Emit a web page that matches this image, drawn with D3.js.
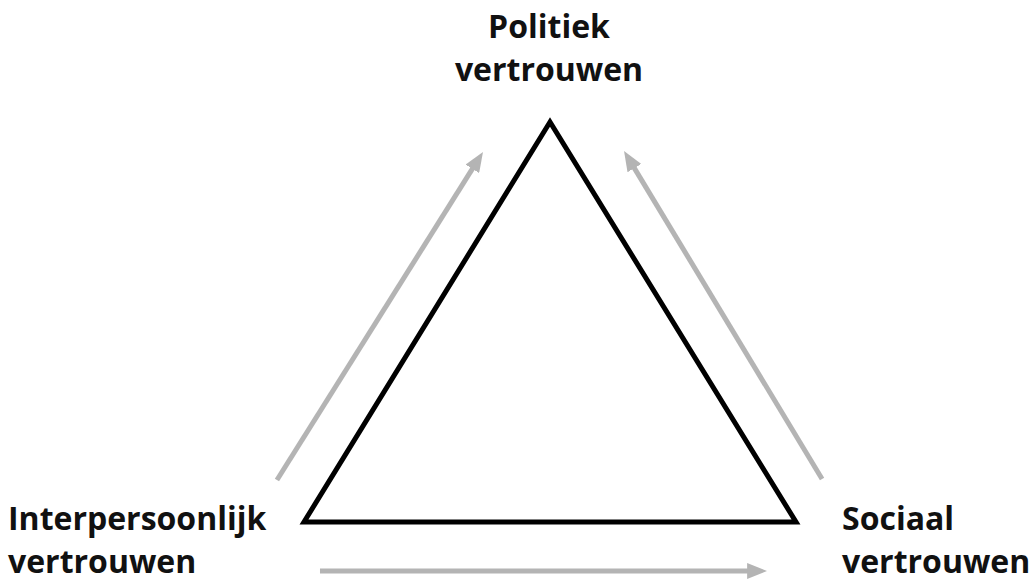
<!doctype html>
<html lang="nl">
<head>
<meta charset="utf-8">
<title>Vertrouwen</title>
<style>
  body { margin: 0; background: #fff; }
  svg { display: block; }
  text { font-family: "Open Sans", sans-serif; font-weight: bold; fill: #111; }
</style>
</head>
<body>
<div id="aqui"></div>
<script src="https://d3js.org/d3.v7.min.js"></script>
<script>
// de drie hoeken van de driehoek (layout-eenheden 0..1)
var hoeken = ["Politiek", "Interpersoonlijk", "Sociaal"];
var hoekX = [0.5, 0, 1];
var hoekY = [0, 1, 1];

// labels per hoek (twee regels)
var labelRegel1 = ["Politiek", "Interpersoonlijk", "Sociaal"];
var labelRegel2 = ["vertrouwen", "vertrouwen", "vertrouwen"];

// pijlen: van -> naar (in dezelfde eenheden)
var pijlVanX = [-0.055, 1.053, 0.0325];
var pijlVanY = [0.895, 0.8925, 1.1225];
var pijlNaarX = [0.353, 0.661, 0.921];
var pijlNaarY = [0.096, 0.094, 1.1225];

var w = 1033, h = 580;

var x = d3.scaleLinear().domain([0, 1]).range([304, 796]);
var y = d3.scaleLinear().domain([0, 1]).range([122, 522]);

var svg = d3.select("#aqui")
  .append("svg")
  .attr("width", w)
  .attr("height", h);

svg.append("defs").append("marker")
  .attr("id", "kop")
  .attr("viewBox", "0 0 10 8")
  .attr("refX", 5)
  .attr("refY", 4)
  .attr("markerWidth", 4)
  .attr("markerHeight", 3.2)
  .attr("markerUnits", "strokeWidth")
  .attr("orient", "auto")
  .append("path")
  .attr("d", "M0,0 L10,4 L0,8 Z")
  .attr("fill", "#b4b4b4");

// grijze pijlen
var pijlen = d3.range(pijlVanX.length);
svg.selectAll("line.pijl")
  .data(pijlen)
  .enter()
  .append("line")
  .attr("class", "pijl")
  .attr("x1", function(i) { return x(pijlVanX[i]); })
  .attr("y1", function(i) { return y(pijlVanY[i]); })
  .attr("x2", function(i) { return x(pijlNaarX[i]); })
  .attr("y2", function(i) { return y(pijlNaarY[i]); })
  .attr("stroke", "#b4b4b4")
  .attr("stroke-width", 5)
  .attr("marker-end", "url(#kop)");

// de driehoek
var punten = hoeken.map(function(d, i) { return [x(hoekX[i]), y(hoekY[i])]; });
svg.append("path")
  .attr("d", d3.line()(punten) + "Z")
  .attr("fill", "none")
  .attr("stroke", "#000")
  .attr("stroke-width", 5)
  .attr("stroke-linejoin", "miter");

// labels
var labelPos = [
  { x: 549, y: 38, anchor: "middle" },
  { x: 8, y: 530, anchor: "start" },
  { x: 842, y: 530, anchor: "start" }
];
var g = svg.selectAll("g.label")
  .data(hoeken)
  .enter()
  .append("g")
  .attr("class", "label");

g.append("text")
  .attr("x", function(d, i) { return labelPos[i].x; })
  .attr("y", function(d, i) { return labelPos[i].y; })
  .attr("text-anchor", function(d, i) { return labelPos[i].anchor; })
  .style("font-size", "32px")
  .text(function(d, i) { return labelRegel1[i]; });

g.append("text")
  .attr("x", function(d, i) { return labelPos[i].x; })
  .attr("y", function(d, i) { return labelPos[i].y + 43; })
  .attr("text-anchor", function(d, i) { return labelPos[i].anchor; })
  .style("font-size", "32px")
  .text(function(d, i) { return labelRegel2[i]; });
</script>
</body>
</html>
